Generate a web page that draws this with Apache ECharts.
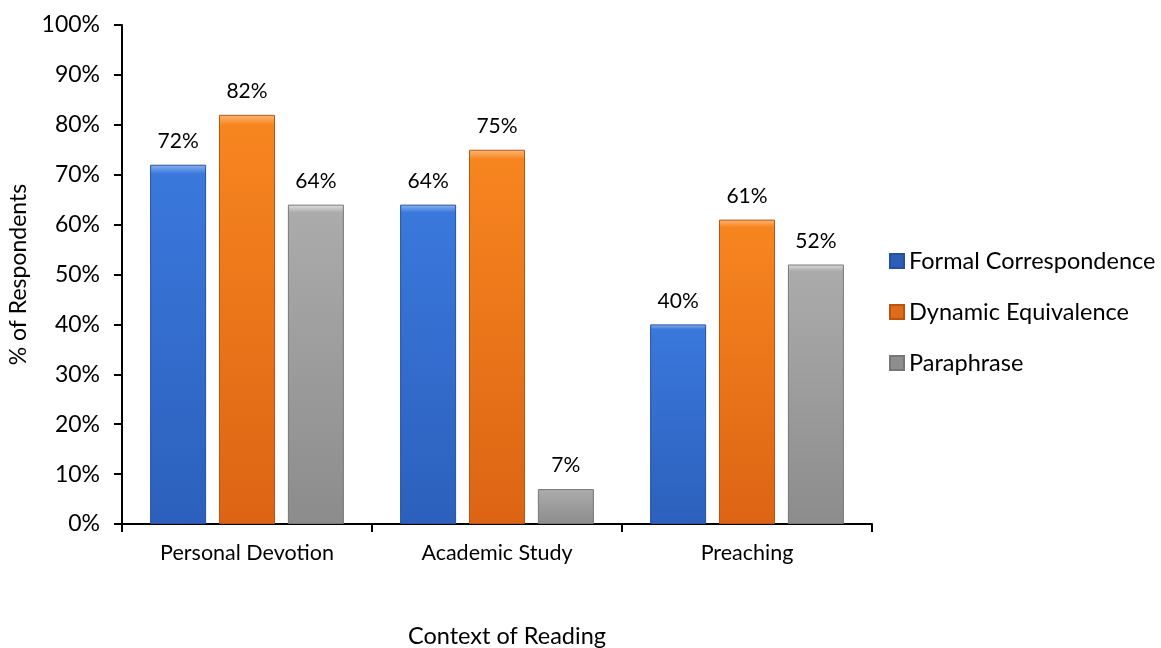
<!DOCTYPE html>
<html><head><meta charset="utf-8">
<script src="https://cdn.jsdelivr.net/npm/echarts@6/dist/echarts.min.js"></script>
<style>html,body{margin:0;padding:0;background:#fff}#c{width:1161px;height:648px}</style>
</head><body><div id="c"></div>
<script>
const categories = ['Personal Devotion', 'Academic Study', 'Preaching'];
const seriesNames = ['Formal Correspondence', 'Dynamic Equivalence', 'Paraphrase'];
const formal = [72, 64, 40];
const dynamic = [82, 75, 61];
const paraphrase = [64, 7, 52];
const yTicks = [0, 10, 20, 30, 40, 50, 60, 70, 80, 90, 100];

const FONT = 'Lato, "Open Sans", sans-serif';
function grad(hi, top, bot) {
  return new echarts.graphic.LinearGradient(0, 0, 0, 1, [
    {offset: 0, color: hi}, {offset: 0.025, color: top}, {offset: 1, color: bot}
  ]);
}
const styles = [
  {fill: grad('#8ab4f0', '#3a78dc', '#2c60bc'), border: '#2650a0', legend: '#2c5fb8'},
  {fill: grad('#fbb878', '#f7851f', '#dc6414'), border: '#b85510', legend: '#e06c18'},
  {fill: grad('#e0e0e0', '#ababab', '#8c8c8c'), border: '#777777', legend: '#8e8e8e'}
];
const dataSets = [formal, dynamic, paraphrase];

const chart = echarts.init(document.getElementById('c'), null, {renderer: 'canvas'});
chart.setOption({
  animation: false,
  textStyle: {fontFamily: FONT},
  grid: {left: 122, right: 289, top: 25, bottom: 124, containLabel: false, outerBoundsMode: 'none'},
  legend: {
    orient: 'vertical', left: 884, top: 244, itemWidth: 14, itemHeight: 14, itemGap: 27,
    textStyle: {fontFamily: FONT, fontSize: 23.5, color: '#000'},
    data: seriesNames.map((n, i) => ({name: n, icon: 'rect', itemStyle: {color: styles[i].legend}}))
  },
  xAxis: {
    type: 'category', data: categories,
    name: 'Context of Reading', nameLocation: 'middle', nameGap: 100,
    nameTextStyle: {fontFamily: FONT, fontSize: 23.5, color: '#000', padding: [0, 0, 0, 20]},
    axisLine: {lineStyle: {color: '#000', width: 2}},
    axisTick: {show: true, length: 8, lineStyle: {color: '#000', width: 2}},
    axisLabel: {fontFamily: FONT, fontSize: 21.5, color: '#000', margin: 18}
  },
  yAxis: {
    type: 'value', min: 0, max: 100, interval: 10,
    name: '% of Respondents', nameLocation: 'middle', nameGap: 92, nameRotate: 90,
    nameTextStyle: {fontFamily: FONT, fontSize: 23, color: '#000'},
    axisLine: {show: true, lineStyle: {color: '#000', width: 2}},
    axisTick: {show: true, inside: false, length: 8, lineStyle: {color: '#000', width: 2}},
    splitLine: {show: false},
    axisLabel: {fontFamily: FONT, fontSize: 23, color: '#000', margin: 22,
      formatter: v => yTicks.includes(v) ? v + '%' : ''}
  },
  series: dataSets.map((d, i) => ({
    name: seriesNames[i], type: 'bar', data: d, barWidth: 56, barGap: '23%',
    itemStyle: {color: styles[i].fill, borderColor: styles[i].border, borderWidth: 1},
    label: {show: true, position: 'top', distance: 13, fontFamily: FONT, fontSize: 21, color: '#000',
      formatter: p => p.value + '%'}
  }))
});
</script></body></html>
